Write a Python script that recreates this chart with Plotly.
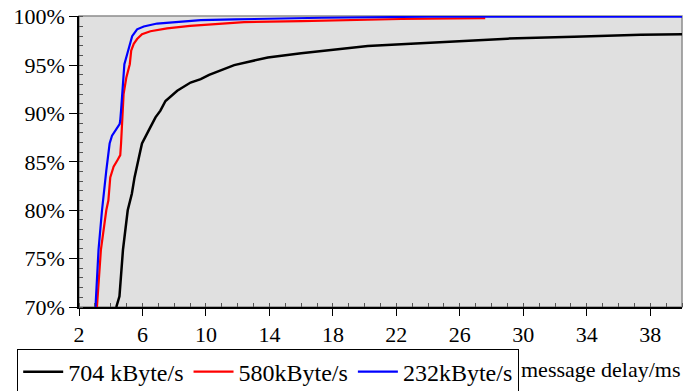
import plotly.graph_objects as go

# ---- data ----
black_name = "704 kByte/s"
black_x = [4.35, 4.55, 4.77, 5.07, 5.33, 5.5, 5.86, 5.97, 6.5, 6.82, 7.13, 7.45, 8.19, 9.03, 9.67,
           10.2, 11.78, 13.9, 16.0, 18.1, 20.2, 22.3, 24.4, 29.0, 33.2, 37.4, 40.0]
black_y = [70.0, 71.1, 75.9, 80.0, 81.7, 83.4, 86.1, 86.9, 88.6, 89.6, 90.3, 91.3, 92.35, 93.2, 93.56,
           94.0, 95.0, 95.8, 96.23, 96.64, 96.99, 97.16, 97.33, 97.74, 97.94, 98.15, 98.2]

red_name = "580kByte/s"
red_x = [3.13, 3.38, 3.72, 3.85, 3.97, 4.18, 4.43, 4.6, 4.65, 4.75, 4.81, 4.98, 5.2, 5.29, 5.45,
         5.66, 5.97, 6.5, 7.55, 9.0, 10.2, 12.4, 16.0, 19.8, 22.3, 27.6]
red_y = [70.0, 75.9, 80.0, 81.0, 83.4, 84.5, 85.2, 85.7, 86.9, 90.3, 92.0, 93.7, 95.1, 96.5, 97.2,
         97.7, 98.2, 98.5, 98.8, 99.05, 99.2, 99.45, 99.56, 99.7, 99.77, 99.85]

blue_name = "232kByte/s"
blue_x = [3.04, 3.23, 3.45, 3.51, 3.72, 3.93, 4.08, 4.56, 4.6, 4.65, 4.71, 4.86, 5.03, 5.2, 5.35,
          5.66, 6.08, 6.92, 8.4, 9.67, 11.8, 17.3, 24.0, 40.0]
blue_y = [70.0, 75.9, 80.0, 81.0, 84.1, 86.9, 87.7, 88.9, 89.3, 90.3, 92.0, 95.1, 96.1, 97.2, 98.0,
          98.7, 99.0, 99.3, 99.5, 99.66, 99.73, 99.9, 100.0, 100.0]

x_ticks = [2, 6, 10, 14, 18, 22, 26, 30, 34, 38]
y_ticks = [70, 75, 80, 85, 90, 95, 100]
y_labels = ["70%", "75%", "80%", "85%", "90%", "95%", "100%"]
x_title = "message delay/ms"

X_RANGE = [2, 40]
Y_RANGE = [70, 100.08]
FONT = "Liberation Serif"

fig = go.Figure()
fig.add_trace(go.Scatter(x=black_x, y=black_y, mode="lines", name=black_name,
                         line=dict(color="#000000", width=2.5)))
fig.add_trace(go.Scatter(x=red_x, y=red_y, mode="lines", name=red_name,
                         line=dict(color="#ff0000", width=2.2)))
fig.add_trace(go.Scatter(x=blue_x, y=blue_y, mode="lines", name=blue_name,
                         line=dict(color="#0000ff", width=2.2)))

fig.update_layout(
    width=685, height=391,
    margin=dict(l=79, r=3, t=16, b=84, autoexpand=False),
    paper_bgcolor="white",
    plot_bgcolor="#e0e0e0",
    font=dict(family=FONT, size=22),
    showlegend=True,
    legend=dict(orientation="h", x=-0.1025, xanchor="left", y=-0.143, yanchor="top",
                bordercolor="#000000", borderwidth=1, bgcolor="white",
                font=dict(family=FONT, size=24, color="black"), itemwidth=40),
    xaxis=dict(range=X_RANGE, tickvals=x_ticks, ticks="outside", ticklen=7, tickwidth=1,
               tickcolor="black", showgrid=False, zeroline=False, showline=True,
               linecolor="black", linewidth=1.5,
               minor=dict(dtick=1, ticks="inside", ticklen=4, tickcolor="#555555", showgrid=False),
               tickfont=dict(family=FONT, size=22, color="black")),
    yaxis=dict(range=Y_RANGE, tickvals=y_ticks, ticktext=y_labels, ticks="outside", ticklen=8,
               tickwidth=1, tickcolor="black", showgrid=False, zeroline=False, showline=True,
               linecolor="black", linewidth=1.5,
               minor=dict(dtick=1, tick0=70, ticks="inside", ticklen=4, tickcolor="#555555",
                          showgrid=False),
               tickfont=dict(family=FONT, size=22, color="black")),
    shapes=[dict(type="rect", xref="paper", yref="paper", x0=0, x1=1, y0=0, y1=1,
                 line=dict(color="#8c8c8c", width=1.5), layer="below")],
    annotations=[dict(text=x_title, xref="paper", yref="paper", x=0.729, y=-0.215,
                      xanchor="left", yanchor="middle", showarrow=False,
                      font=dict(family=FONT, size=22, color="black"))],
)

fig.write_html("out.html", config={"displayModeBar": False},
               post_script="document.body.style.margin='0';")
